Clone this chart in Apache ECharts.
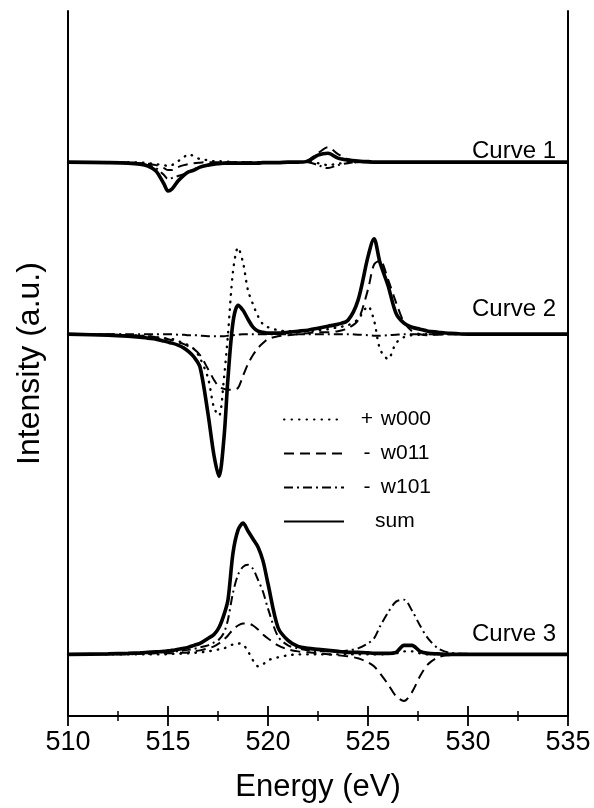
<!DOCTYPE html>
<html lang="en">
<head>
    <meta charset="UTF-8">
    <title>Intensity vs Energy</title>
    <script type="text/javascript" src="https://cdn.jsdelivr.net/npm/echarts@6/dist/echarts.min.js"></script>
    <style>
        html, body { margin: 0; padding: 0; background: #fff; }
        #chart { width: 594px; height: 808px; }
    </style>
</head>
<body>
<div id="chart"></div>
<script type="text/javascript">
// energy grid (eV), shared by all curves
var energy = [510, 512, 513, 513.6, 514, 514.4, 514.8, 515, 515.2, 515.5,
              515.8, 516, 516.3, 516.6, 517, 517.3, 517.55, 517.8, 518, 518.25,
              518.5, 518.75, 519, 519.25, 519.5, 519.75, 520, 520.5, 521, 521.5,
              522, 522.5, 523, 523.5, 524, 524.5, 525, 525.3, 525.6, 526,
              526.4, 526.8, 527.2, 527.6, 528, 528.5, 529, 530, 532, 535];

// vertical offset of each curve (a.u.)
var baselines = [557, 384, 62];
var curveNames = ['Curve 1', 'Curve 2', 'Curve 3'];
var legendNames = ['+ w000', '- w011', '- w101', 'sum'];
var xTicks = [510, 515, 520, 525, 530, 535];

// curve 1
var c1Dot = [0, 0, 0, -0.5, -1, -2, -3, -4, -3, 1,
             5, 8, 6, 3, 2, 1, 1, 0.5, 0.5, 0,
             0, 0, 0, 0, 0, 0, 0, 0, 0, 0,
             0, -1, -3, -1.5, -0.5, 0, 0, 0, 0, 0,
             0, 0, 0, 0, 0, 0, 0, 0, 0, 0];
var c1Dash = [0, 0, -0.5, -1, -1.5, -3, -6, -8, -8, -5,
              -3, -2, -1, -0.5, 0, 0, 0, 0, 0, 0,
              0, 0, 0, 0, 0, 0, 0, 0, 0, 0,
              2, 9, 15, 8, 3, 1, 0, 0, 0, 0,
              0, 0, 0, 0, 0, 0, 0, 0, 0, 0];
var c1DashDot = [0, -0.5, -1, -2, -3, -6, -13, -17, -16, -14,
                 -12, -10, -7, -5, -3, -2, -1.5, -1, -1, -1,
                 -1, -1, -1, -1, -1, -0.5, -0.5, -0.5, 0, 0,
                 0, -3, -6, -3, -1, 0, 0, 0, 0, 0,
                 0, 0, 0, 0, 0, 0, 0, 0, 0, 0];
var c1Sum = [0, -0.5, -1, -2, -4, -9, -22, -29, -27, -19,
             -13, -10, -8, -5, -3, -2, -1.5, -1, -1, -1,
             -1, -1, -1, -1, -1, -0.5, -0.5, -0.5, 0, 0,
             1, 7, 9, 4, 2, 1, 0.5, 0, 0, 0,
             0, 0, 0, 0, 0, 0, 0, 0, 0, 0];

// curve 2
var c2Dot = [0, -0.5, -1, -1.5, -2, -3, -4, -5, -5, -7,
             -9, -11, -15, -24, -44, -74, -82, -44, 0, 63,
             87, 72, 44, 30, 18, 10, 7, 4, 3, 3,
             3, 4, 5, 7, 9, 15, 28, 14, -15, -25,
             -9, -3, -1, -0.5, 0, 0, 0, 0, 0, 0];
var c2Dash = [0, -0.5, -1, -1.5, -2, -3, -4, -5, -6, -8,
              -10, -12, -15, -21, -35, -46, -53, -55, -56, -56,
              -54, -42, -30, -21, -14, -9, -5, -2, -1, 0,
              1, 2, 2, 3, 6, 14, 45, 70, 74, 55,
              32, 12, 3, 0, -1, -0.5, 0, 0, 0, 0];
var c2DashDot = [0, 0, 0, 0, 0, 0, 0, 0, 0, -0.5,
                 -0.5, -1, -1, -1.5, -2, -2, -2, -2, -1.5, -1,
                 -0.5, 0, 0, 0, 0, 0, 0, 0, 0, 0,
                 0, 0, 0, 0, 0, -0.5, -1, -1.5, -1.5, -1,
                 -0.5, 0, 0, 0, 0, 0, 0, 0, 0, 0];
var c2Sum = [0, -1, -2, -3, -4, -5, -7, -8, -9, -11,
             -14, -17, -23, -33, -80, -122, -143, -104, -44, 12,
             29, 24, 15, 7, 3, 2, 1, 1, 2, 3,
             4, 6, 8, 10, 14, 34, 78, 96, 72, 49,
             21, 11, 7, 5, 3, 2, 1, 0, 0, 0];

// curve 3
var c3Dot = [0, 0, 0, 0, 0, 0, 0, 0.5, 0.5, 0.5,
             1, 1, 1.5, 2, 3, 4, 5, 6, 8, 10,
             11, 10, 3, -6, -12, -10, -6, -3, -1, 0,
             0, 0, 0, 0, 0, 0, 0, 0, 0, 0.5,
             1, 3, 3, 1, 0, 0, 0, 0, 0, 0];
var c3Dash = [0, 0, 0, 0.5, 0.5, 1, 1, 1, 1, 1.5,
              1.5, 2, 3, 4, 6, 8, 11, 15, 19, 25,
              29, 31, 31, 29, 25, 20, 16, 9, 5, 3,
              2, 1, 0, -1, -2, -4, -8, -12, -19, -30,
              -42, -47, -38, -22, -10, -3, -1, 0, 0, 0];
var c3DashDot = [0, 0.5, 1, 1, 1.5, 2, 2, 2.5, 3, 3,
                 4, 4.5, 5.5, 7, 9, 12, 15, 22, 35, 62,
                 80, 88, 90, 86, 75, 63, 46, 18, 9, 6,
                 4, 3, 3, 3, 4, 6, 11, 16, 28, 42,
                 53, 55, 44, 29, 16, 6, 2, 0.5, 0, 0];
var c3Sum = [0, 0.5, 1, 1.5, 2, 2.5, 3, 3.5, 4, 5,
             6, 7, 9, 11, 16, 20, 27, 40, 55, 102,
             125, 132, 124, 116, 108, 94, 71, 27, 14, 8,
             6, 5, 4, 3, 2, 2, 1.5, 1, 1, 1,
             2, 9, 9, 3, 1, 0.5, 0, 0, 0, 0];

var curves = [
    [c1Dot, c1Dash, c1DashDot, c1Sum],
    [c2Dot, c2Dash, c2DashDot, c2Sum],
    [c3Dot, c3Dash, c3DashDot, c3Sum]
];

var FONT = "'Liberation Sans', Arial, Helvetica, sans-serif";

// line look per component: dotted, dashed, dash-dot, solid
var styles = [
    {color: '#000', width: 2.4, type: [0.5, 7], cap: 'round'},
    {color: '#000', width: 2, type: [10, 6]},
    {color: '#000', width: 2, type: [9, 4, 2, 4]},
    {color: '#000', width: 3.6, type: 'solid'}
];

var chart = echarts.init(document.getElementById('chart'), null, {renderer: 'canvas'});

var series = [];
for (var c = 0; c < curves.length; c++) {
    for (var k = 0; k < 4; k++) {
        var vals = curves[c][k];
        var pts = [];
        for (var i = 0; i < energy.length; i++) {
            pts.push([energy[i], baselines[c] + vals[i]]);
        }
        series.push({
            name: legendNames[k],
            type: 'line',
            data: pts,
            symbol: 'none',
            smooth: 0.3,
            silent: true,
            z: k == 3 ? 5 : 3,
            itemStyle: {color: '#000'},
            lineStyle: styles[k]
        });
    }
}

// curve labels
var labels = [];
var labelTops = [139, 297, 622];
for (var j = 0; j < curveNames.length; j++) {
    labels.push({
        type: 'text',
        right: 38,
        top: labelTops[j],
        style: {text: curveNames[j], fill: '#000', font: '24px ' + FONT}
    });
}

var axisCommon = {
    type: 'value',
    min: 510,
    max: 535,
    interval: 5,
    axisLine: {show: true, lineStyle: {color: '#000', width: 2}},
    axisTick: {show: true, inside: true, length: 10, lineStyle: {color: '#000', width: 1.8}},
    minorTick: {show: true, splitNumber: 2, length: 5, lineStyle: {color: '#000', width: 1.5}},
    splitLine: {show: false}
};

var option = {
    animation: false,
    backgroundColor: '#fff',
    grid: {left: 68, right: 26, top: 11, bottom: 88},
    legend: {
        orient: 'vertical',
        left: 278,
        top: 404,
        itemWidth: 60,
        itemHeight: 14,
        itemGap: 13,
        selectedMode: false,
        data: legendNames,
        itemStyle: {opacity: 0},
        formatter: function (name) {
            if (name.charAt(0) == '+' || name.charAt(0) == '-')
                return '{p|' + name.charAt(0) + '} ' + name.slice(2);
            return '{p|}' + name;
        },
        textStyle: {
            color: '#000',
            fontSize: 21,
            fontFamily: FONT,
            lineHeight: 21,
            padding: [0, 0, 0, 10],
            rich: {
                p: {width: 16, align: 'right', fontSize: 21, fontFamily: FONT, color: '#000', lineHeight: 21}
            }
        }
    },
    xAxis: [
        echarts.util.merge({
            position: 'bottom',
            name: 'Energy (eV)',
            nameLocation: 'middle',
            nameGap: 56,
            nameTextStyle: {color: '#000', fontSize: 31, fontFamily: FONT},
            axisLabel: {
                color: '#000', fontSize: 27, fontFamily: FONT, margin: 13,
                customValues: xTicks
            }
        }, axisCommon, true),
        echarts.util.merge({
            position: 'top',
            axisLabel: {show: false}
        }, axisCommon, true)
    ],
    yAxis: [
        {
            type: 'value',
            min: 0,
            max: 709,
            position: 'left',
            name: 'Intensity (a.u.)',
            nameLocation: 'middle',
            nameGap: 22,
            nameTextStyle: {color: '#000', fontSize: 32, fontFamily: FONT},
            axisLine: {show: true, lineStyle: {color: '#000', width: 2}},
            axisTick: {show: false},
            axisLabel: {show: false},
            splitLine: {show: false}
        },
        {
            type: 'value',
            min: 0,
            max: 709,
            position: 'right',
            axisLine: {show: true, lineStyle: {color: '#000', width: 2}},
            axisTick: {show: false},
            axisLabel: {show: false},
            splitLine: {show: false}
        }
    ],
    graphic: labels,
    series: series
};
chart.setOption(option);
</script>
</body>
</html>
